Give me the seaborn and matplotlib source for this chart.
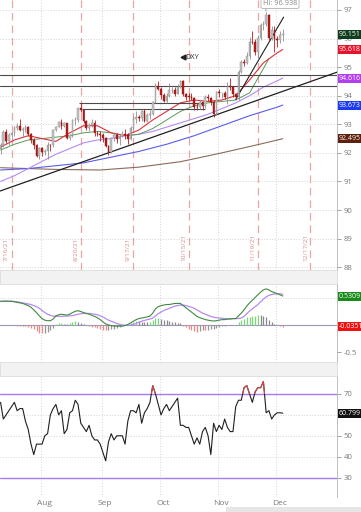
import numpy as np
import pandas as pd
import matplotlib
matplotlib.use("Agg")
import matplotlib.pyplot as plt
from matplotlib.patches import Rectangle
import seaborn as sns


# ---------------------------------------------------------------------------
# Data: US Dollar Index (DXY), daily bars 12 Jul - 3 Dec 2021
# ---------------------------------------------------------------------------

holidays = pd.to_datetime(["2021-09-06", "2021-11-25", "2021-12-24"])
days = pd.bdate_range("2021-07-12", "2021-12-31")
days = days[~days.isin(holidays)]

opens = [
    92.15, 92.27, 92.73, 92.40, 92.63, 92.68, 92.88, 92.95, 92.81, 92.83,
    92.90, 92.65, 92.45, 92.29, 91.88, 92.17, 92.03, 92.06, 92.28, 92.26,
    92.80, 92.92, 93.08, 92.93, 93.04, 92.52, 92.61, 93.14, 93.14, 93.56,
    93.50, 93.12, 92.86, 92.99, 93.06, 92.68, 92.67, 92.63, 92.52, 92.23,
    92.03, 92.52, 92.61, 92.48, 92.58, 92.66, 92.64, 92.48, 92.86, 93.20,
    93.27, 93.21, 93.47, 93.12, 93.33, 93.36, 93.77, 94.35, 94.23, 94.04,
    93.83, 94.00, 94.19, 94.20, 94.07, 94.30, 94.52, 94.07, 93.97, 93.96,
    93.93, 93.60, 93.59, 93.77, 93.64, 93.95, 93.93, 93.78, 93.35, 94.12,
    94.08, 94.08, 93.94, 94.35, 94.32, 94.06, 93.96, 94.82, 95.17, 95.13,
    95.39, 95.89, 95.87, 95.54, 96.03, 96.48, 96.50, 96.81, 96.03, 96.30,
    95.99, 95.95, 96.13,
]
highs = [
    92.33, 92.80, 92.85, 92.70, 92.74, 92.94, 93.04, 93.19, 92.90, 92.97,
    92.94, 92.71, 92.52, 92.32, 92.20, 92.20, 92.14, 92.38, 92.31, 92.82,
    92.95, 93.10, 93.19, 93.08, 93.04, 92.67, 93.18, 93.26, 93.56, 93.73,
    93.52, 93.14, 93.06, 93.19, 93.14, 92.76, 92.76, 92.69, 92.55, 92.28,
    92.55, 92.73, 92.68, 92.62, 92.76, 92.85, 92.68, 92.94, 93.28, 93.45,
    93.33, 93.52, 93.52, 93.38, 93.50, 93.80, 94.45, 94.50, 94.30, 94.08,
    94.09, 94.45, 94.30, 94.31, 94.40, 94.56, 94.55, 94.11, 94.09, 94.10,
    93.96, 93.74, 93.85, 93.80, 94.02, 94.05, 93.95, 93.85, 94.16, 94.23,
    94.11, 94.17, 94.47, 94.61, 94.33, 94.08, 94.91, 95.26, 95.27, 95.53,
    96.05, 96.27, 96.00, 96.13, 96.56, 96.61, 96.938, 96.87, 96.44, 96.44,
    96.09, 96.26, 96.35,
]
lows = [
    91.96, 92.20, 92.35, 92.27, 92.52, 92.60, 92.80, 92.75, 92.57, 92.72,
    92.60, 92.33, 92.12, 91.86, 91.78, 91.90, 91.94, 91.78, 92.06, 92.21,
    92.75, 92.90, 92.82, 92.89, 92.48, 92.45, 92.57, 92.98, 93.08, 93.43,
    93.06, 92.80, 92.78, 92.89, 92.60, 92.58, 92.43, 92.39, 92.20, 91.94,
    92.00, 92.40, 92.33, 92.29, 92.56, 92.47, 92.32, 92.45, 92.81, 93.05,
    93.12, 93.10, 93.08, 93.08, 93.20, 93.33, 93.75, 94.20, 93.90, 93.78,
    93.75, 93.97, 94.11, 93.99, 94.05, 94.28, 93.99, 93.86, 93.84, 93.84,
    93.51, 93.50, 93.54, 93.49, 93.56, 93.82, 93.66, 93.27, 93.32, 93.94,
    93.91, 93.87, 93.71, 94.19, 93.97, 93.87, 93.85, 94.80, 95.04, 95.10,
    95.30, 95.80, 95.41, 95.32, 95.94, 96.30, 96.45, 95.92, 95.95, 95.52,
    95.70, 95.86, 95.92,
]
closes = [
    92.27, 92.73, 92.40, 92.63, 92.68, 92.88, 92.95, 92.81, 92.83, 92.90,
    92.65, 92.45, 92.29, 91.88, 92.17, 92.03, 92.06, 92.28, 92.26, 92.80,
    92.92, 93.08, 92.93, 93.04, 92.52, 92.61, 93.14, 93.14, 93.56, 93.50,
    93.12, 92.86, 92.99, 93.06, 92.68, 92.67, 92.63, 92.52, 92.23, 92.03,
    92.52, 92.61, 92.48, 92.58, 92.66, 92.64, 92.48, 92.86, 93.20, 93.27,
    93.21, 93.47, 93.12, 93.33, 93.36, 93.77, 94.35, 94.23, 94.04, 93.83,
    94.00, 94.19, 94.20, 94.07, 94.30, 94.52, 94.07, 93.97, 93.96, 93.93,
    93.60, 93.59, 93.77, 93.64, 93.95, 93.93, 93.78, 93.35, 94.12, 94.08,
    94.08, 93.94, 94.35, 94.32, 94.06, 93.96, 94.82, 95.17, 95.13, 95.39,
    95.89, 95.87, 95.54, 96.03, 96.48, 96.50, 96.81, 96.03, 96.30, 95.99,
    95.95, 96.13, 96.151,
]

# moving averages, read at weekly-ish bar positions
ma_idx = [0, 5, 10, 15, 20, 25, 30, 35, 40, 45, 50, 55, 60, 65, 70, 75, 80, 85, 90, 95, 100, 102]
ma_red = [92.20, 92.45, 92.60, 92.50, 92.40, 92.70, 92.95, 92.95, 92.70, 92.60, 92.80,
          93.15, 93.45, 93.75, 93.85, 93.80, 93.85, 94.00, 94.55, 95.15, 95.50, 95.618]
ma_purple = [91.00, 91.20, 91.45, 91.70, 91.95, 92.15, 92.35, 92.45, 92.50, 92.60, 92.65,
             92.75, 92.90, 93.05, 93.20, 93.35, 93.55, 93.75, 94.00, 94.30, 94.52, 94.616]
green_idx = [0, 5, 10, 15, 20, 25, 30, 35, 40, 45, 50, 55, 60, 65, 70, 75, 80, 85, 90, 95, 97]
ma_green = [92.10, 92.30, 92.45, 92.50, 92.55, 92.60, 92.70, 92.75, 92.70, 92.60, 92.65,
            92.85, 93.15, 93.45, 93.65, 93.75, 93.80, 93.85, 94.10, 94.95, 95.30]
blue_idx = [0, 10, 20, 30, 40, 50, 60, 70, 80, 90, 100, 102]
ma_blue = [91.40, 91.45, 91.55, 91.65, 91.85, 92.05, 92.30, 92.60, 92.95, 93.30, 93.60, 93.673]
brown_idx = [0, 20, 36, 50, 65, 80, 94, 102]
ma_brown = [91.48, 91.42, 91.40, 91.50, 91.69, 92.00, 92.31, 92.495]

# drawn studies
trend_long = [(0, 90.67), (77, 93.30)]
trend_short = [(85, 93.87), (102.3, 96.75)]
levels_full = [94.73, 94.33]
levels_short = [(93.74, 28.5, 74.0), (93.53, 29.3, 74.0)]
marker_dates = ["2021-07-16", "2021-08-20", "2021-09-17", "2021-10-15", "2021-11-19", "2021-12-17"]
marker_labels = ["7/16/21", "8/20/21", "9/17/21", "10/15/21", "11/19/21", "12/17/21"]

# MACD (line, signal)
macd = [
    0.44, 0.44, 0.445, 0.44, 0.44, 0.43, 0.42, 0.41, 0.40, 0.38,
    0.36, 0.33, 0.28, 0.23, 0.17, 0.12, 0.09, 0.08, 0.08, 0.11,
    0.17, 0.19, 0.20, 0.19, 0.185, 0.20, 0.23, 0.255, 0.265, 0.25,
    0.23, 0.215, 0.20, 0.18, 0.16, 0.135, 0.10, 0.06, 0.02, 0.00,
    -0.01, -0.02, -0.02, -0.02, -0.02, -0.01, 0.01, 0.04, 0.07, 0.10,
    0.12, 0.13, 0.14, 0.15, 0.165, 0.22, 0.30, 0.34, 0.36, 0.37,
    0.38, 0.38, 0.39, 0.40, 0.40, 0.40, 0.36, 0.32, 0.28, 0.24,
    0.20, 0.16, 0.135, 0.12, 0.10, 0.09, 0.08, 0.074, 0.08, 0.09,
    0.10, 0.10, 0.11, 0.11, 0.12, 0.12, 0.17, 0.22, 0.28, 0.35,
    0.41, 0.46, 0.51, 0.56, 0.61, 0.65, 0.67, 0.65, 0.62, 0.60,
    0.58, 0.56, 0.537,
]
signal = [
    0.44, 0.44, 0.44, 0.44, 0.44, 0.435, 0.43, 0.42, 0.41, 0.40,
    0.39, 0.38, 0.36, 0.34, 0.31, 0.27, 0.23, 0.20, 0.18, 0.165,
    0.16, 0.16, 0.16, 0.165, 0.165, 0.17, 0.175, 0.185, 0.20, 0.21,
    0.215, 0.215, 0.215, 0.21, 0.20, 0.19, 0.17, 0.15, 0.12, 0.09,
    0.07, 0.05, 0.03, 0.01, 0.00, -0.005, -0.005, 0.00, 0.01, 0.03,
    0.05, 0.07, 0.085, 0.10, 0.11, 0.13, 0.17, 0.21, 0.24, 0.27,
    0.29, 0.31, 0.33, 0.35, 0.36, 0.37, 0.37, 0.36, 0.345, 0.33,
    0.31, 0.28, 0.25, 0.22, 0.20, 0.18, 0.16, 0.145, 0.135, 0.13,
    0.125, 0.12, 0.118, 0.117, 0.117, 0.118, 0.12, 0.13, 0.16, 0.21,
    0.26, 0.30, 0.34, 0.38, 0.43, 0.48, 0.52, 0.55, 0.565, 0.575,
    0.58, 0.578, 0.572,
]

# RSI(14)
rsi = [
    66, 58, 60, 62, 64, 66, 62, 63, 63, 57,
    53, 46, 41, 46, 46, 46, 50, 51, 60, 63,
    65, 60, 62, 51, 53, 61, 62, 67, 65, 56,
    54, 52, 55, 50, 48, 48, 46, 42, 38, 47,
    51, 48, 50, 50, 50, 46, 57, 62, 62, 61,
    65, 56, 61, 63, 66, 74, 70, 65, 60, 63,
    65, 62, 64, 66, 68, 55, 55, 54, 54, 50,
    46, 49, 46, 52, 54, 50, 41, 56, 52, 55,
    53, 58, 54, 52, 52, 64, 67, 67, 73, 74,
    70, 66, 71, 73, 73, 76, 61, 62, 58, 60,
    61, 61, 60.799,
]


# ---------------------------------------------------------------------------
# Figure
# ---------------------------------------------------------------------------

sns.set_theme(style="white")
plt.rcParams["font.family"] = ["Open Sans", "DejaVu Sans"]

W, H = 361, 512
fig = plt.figure(figsize=(W / 100, H / 100), dpi=100)
fig.patch.set_facecolor("white")


def px_axes(x0, y0, x1, y1):
    return fig.add_axes([x0 / W, 1 - y1 / H, (x1 - x0) / W, (y1 - y0) / H])


ax_p = px_axes(0, 0, 337, 270)
ax_m = px_axes(0, 284, 337, 362)
ax_r = px_axes(0, 376, 337, 497)

xmax = 121.6
x = np.arange(len(closes))
month_first = [i for i in range(1, len(days)) if days[i].month != days[i - 1].month]
month_names = [days[i].strftime("%b") for i in month_first]

grid_kw = dict(color="#c6c6c6", lw=0.6, ls=(0, (1, 2.2)), zorder=0)
tick_col = "#7a7a7a"

for ax in (ax_p, ax_m, ax_r):
    ax.set_xlim(-0.2, xmax)
    ax.set_facecolor("white")
    for side in ("left", "top", "bottom"):
        ax.spines[side].set_visible(False)
    ax.spines["right"].set_color("#bdbdbd")
    ax.spines["right"].set_linewidth(0.7)
    ax.yaxis.tick_right()
    ax.tick_params(axis="y", labelsize=5.6, colors=tick_col, length=3, width=0.5, pad=2)
    ax.tick_params(axis="x", length=0)
    for i in month_first:
        ax.axvline(i - 0.5, **grid_kw)


def value_box(ax, y, text, color):
    ax.text(1.006, y, text, transform=ax.get_yaxis_transform(), ha="left", va="center",
            fontsize=5.0, color="white", clip_on=False, zorder=20,
            bbox=dict(boxstyle="square,pad=0.15", fc=color, ec="none"))


# --- price panel -----------------------------------------------------------
ax_p.set_ylim(87.9, 97.35)
ax_p.set_yticks(range(88, 98))
ax_p.set_xticks([])
for v in range(88, 98):
    ax_p.axhline(v, **grid_kw)

day_pos = {d.strftime("%Y-%m-%d"): i for i, d in enumerate(days)}
for d, lab in zip(marker_dates, marker_labels):
    i = day_pos[d]
    ax_p.axvline(i, color="#eba4a4", lw=0.9, ls=(0, (6, 4)), zorder=0.5)
    ax_p.text(i - 1.8, 88.22, lab, rotation=90, ha="center", va="bottom",
              fontsize=4.6, color="#d98a8a")

for lv in levels_full:
    ax_p.axhline(lv, color="#4a4a4a", lw=0.8, zorder=1.5)
for lv, a, b in levels_short:
    ax_p.hlines(lv, a, b, color="#4a4a4a", lw=0.8, zorder=1.5)

ax_p.axline(trend_long[0], trend_long[1], color="#202020", lw=0.9, zorder=1.6)
ax_p.plot([trend_short[0][0], trend_short[1][0]], [trend_short[0][1], trend_short[1][1]],
          color="#202020", lw=0.8, zorder=1.6)

sns.lineplot(x=brown_idx, y=ma_brown, ax=ax_p, color="#8a6a5a", lw=0.8, zorder=1)
sns.lineplot(x=blue_idx, y=ma_blue, ax=ax_p, color="#5a5cf0", lw=0.8, zorder=1)
sns.lineplot(x=ma_idx, y=ma_purple, ax=ax_p, color="#b58cf2", lw=0.8, zorder=1)
sns.lineplot(x=green_idx, y=ma_green, ax=ax_p, color="#5a9a5a", lw=0.7, zorder=1)
sns.lineplot(x=ma_idx, y=ma_red, ax=ax_p, color="#e0303a", lw=0.8, zorder=1.1)

o, h, l, c = map(np.asarray, (opens, highs, lows, closes))
up = c >= o
up_col, dn_col = "#c2c2c2", "#b51d1d"
ax_p.vlines(x[up], l[up], h[up], color="#8e8e8e", lw=0.6, zorder=2)
ax_p.vlines(x[~up], l[~up], h[~up], color=dn_col, lw=0.6, zorder=2)
body = np.maximum(np.abs(c - o), 0.02)
ax_p.bar(x[up], body[up], bottom=np.minimum(o, c)[up], width=0.62,
         color=up_col, edgecolor="#8e8e8e", linewidth=0.3, zorder=3)
ax_p.bar(x[~up], body[~up], bottom=np.minimum(o, c)[~up], width=0.62,
         color=dn_col, edgecolor="#8a1212", linewidth=0.3, zorder=3)

ax_p.plot(66.0, 95.35, marker="<", ms=3.5, color="#222222", zorder=5)
ax_p.text(66.9, 95.35, "DXY", fontsize=5.3, color="#333333", va="center", ha="left")

hi_i = int(np.argmax(h))
ax_p.plot([hi_i - 0.3, hi_i], [97.08, h[hi_i] + 0.02], color="#9a9a9a", lw=0.6, zorder=5)
ax_p.text(hi_i + 5.0, 97.24, f"Hi: {h[hi_i]:.3f}", fontsize=5.3, color="#8a8a8a",
          ha="center", va="center", zorder=6,
          bbox=dict(boxstyle="round,pad=0.25", fc="white", ec="#b0b0b0", lw=0.6))

value_box(ax_p, closes[-1], f"{closes[-1]:.3f}", "#0f3d1d")
value_box(ax_p, ma_red[-1], f"{ma_red[-1]:.3f}", "#e4142c")
value_box(ax_p, ma_purple[-1], f"{ma_purple[-1]:.3f}", "#b13ef0")
value_box(ax_p, ma_blue[-1], f"{ma_blue[-1]:.3f}", "#1c3cf2")
value_box(ax_p, ma_brown[-1], f"{ma_brown[-1]:.3f}", "#5c200c")

# --- MACD panel ------------------------------------------------------------
ax_m.set_ylim(-0.685, 0.76)
ax_m.set_yticks([0.5, -0.5])
ax_m.set_yticklabels(["0.5", "-0.5"])
ax_m.set_xticks([])
ax_m.axhline(0.5, **grid_kw)
ax_m.axhline(0, color="#9c98b8", lw=0.8, zorder=1)

hist = np.asarray(macd) - np.asarray(signal)
bar_cols = []
for i, hv in enumerate(hist):
    prev = hist[i - 1] if i else hv
    if hv >= 0:
        bar_cols.append("#7ada7a" if hv >= prev else "#8a8a8a")
    else:
        bar_cols.append("#f08888" if hv <= prev else "#959595")
ax_m.vlines(x, 0, hist, colors=bar_cols, lw=0.9, zorder=1.5)
sns.lineplot(x=x, y=signal, ax=ax_m, color="#b68af2", lw=0.9, zorder=2)
sns.lineplot(x=x, y=macd, ax=ax_m, color="#3f8a3f", lw=0.8, zorder=2.1)

value_box(ax_m, 0.5309, "0.5309", "#1a8a1a")
value_box(ax_m, -0.0351, "-0.0351", "#f01010")

# --- RSI panel -------------------------------------------------------------
ax_r.set_ylim(20.7, 78.6)
ax_r.set_yticks([30, 40, 50, 60, 70])
for v in (40, 50, 60):
    ax_r.axhline(v, **grid_kw)
for v in (30, 70):
    ax_r.axhline(v, color="#a87af2", lw=1.0, zorder=1)

sns.lineplot(x=x, y=rsi, ax=ax_r, color="#202020", lw=0.8, zorder=2)
sns.lineplot(x=x, y=rsi, ax=ax_r, color="#d04848", lw=0.8, zorder=2.1)
clip = Rectangle((-1, 70), xmax + 2, 20, transform=ax_r.transData)
ax_r.lines[-1].set_clip_path(clip)

value_box(ax_r, rsi[-1], f"{rsi[-1]:.3f}", "#111111")

ax_r.set_xticks([i + 0.8 for i in month_first[:5]])
ax_r.set_xticklabels(month_names[:5], fontsize=6, color=tick_col)
ax_r.tick_params(axis="x", pad=2)

for ax in (ax_p, ax_m, ax_r):
    ax.set_xlabel("")
    ax.set_ylabel("")

# panel header strips and bottom toolbar
for y0 in (270, 362):
    fig.patches.append(Rectangle((0, 1 - (y0 + 14) / H), 337 / W, 14 / H,
                                 transform=fig.transFigure, fc="#f2f2f2",
                                 ec="#dcdcdc", lw=0.6, zorder=0))
fig.patches.append(Rectangle((226 / W, 0), (W - 226) / W, 5 / H,
                             transform=fig.transFigure, fc="#e6e6e6", ec="none"))

fig.savefig("out.png", dpi=100)
